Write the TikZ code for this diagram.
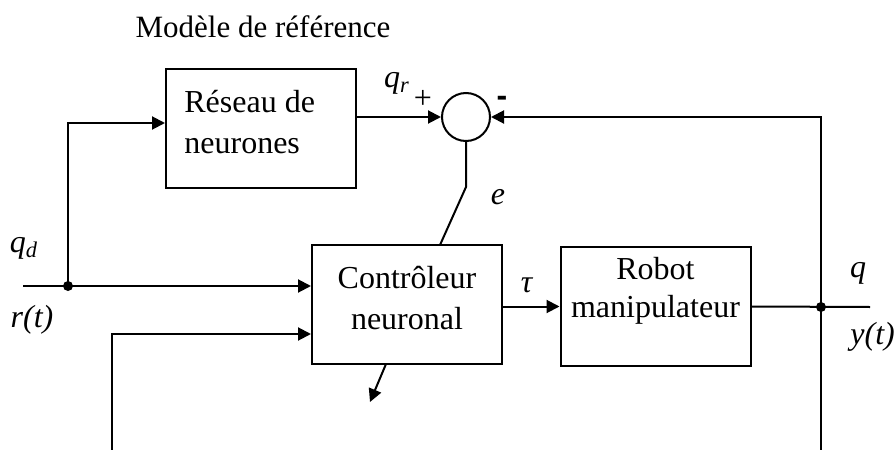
\documentclass[tikz,border=0pt]{standalone}
\usepackage{fontspec}
\setmainfont{Liberation Serif}
\usetikzlibrary{arrows.meta,calc}
\begin{document}
\begin{tikzpicture}[x=0.5pt,y=-0.5pt,
  every node/.style={font=\fontsize{16}{20.5}\selectfont},
  blk/.style={draw,line width=1pt,minimum width=95pt,minimum height=59.5pt,inner sep=0pt},
  sumnode/.style={draw,circle,line width=1pt,minimum size=24pt,inner sep=0pt},
  wire/.style={line width=1pt},
  sig/.style={wire,-{Triangle[length=6.5pt,width=6.5pt]}},
  lbl/.style={inner sep=0pt},
  junction/.style={circle,fill,minimum size=5pt,inner sep=0pt}]
\useasboundingbox (0,0) rectangle (896,450);

% title
\node[lbl,font=\fontsize{15.5}{19}\selectfont] (title) at (263,27) {Modèle de référence};

% blocks
\node[blk] (reseau) at (261,128.5) {};
\node[lbl,anchor=west,align=left] (reseautxt) at (184,122.5) {Réseau de\\neurones};
\node[sumnode] (sum) at (466,117) {};
\node[blk,align=center] (ctrl) at (407,304.5) {};
\node[lbl,align=center] (ctrltxt) at (407,298.5) {Contrôleur\\neuronal};
\node[blk] (robot) at (655.5,306.5) {};
\node[lbl,align=center,font=\fontsize{16}{19}\selectfont] (robottxt) at (655.5,291) {Robot\\manipulateur};

% junctions and free ends
\node[junction] (j1) at (68,286) {};
\node[junction] (j2) at (821,307) {};
\coordinate (qin) at (23,286);
\coordinate (fbin) at (112,450);
\coordinate (fbout) at (821,450);
\coordinate (yout) at (870,307);
\coordinate (ebend) at (466,187);
\coordinate (etop) at (440,245);
\coordinate (adapt) at (370,402);
\coordinate (adaptfrom) at (386,364);

% connectors
\draw[sig] (qin) -- (ctrl.west |- qin);
\draw[sig] (j1.center) |- ($(reseau.west)+(0,-5.5)$);
\draw[sig] (reseau.east |- sum) -- (sum.west);
\draw[wire] (sum.south) -- (ebend) -- (etop);
\draw[sig] (ctrl.east |- robot) -- (robot.west);
\draw[wire] (robot.east) -- (yout);
\draw[sig] (fbout) -- (j2.center) |- (sum.east);
\draw[sig] (fbin) |- (ctrl.west |- 0,334);
\draw[sig] (adaptfrom) -- (adapt);

% signal labels
\node[lbl] (qdl) at (24,248) {\textit{q}\textsubscript{\textit{d}}};
\node[lbl] (rtl) at (32,320) {\textit{r(t)}};
\node[lbl] (qrl) at (397,83) {\textit{q}\textsubscript{\textit{r}}};
\node[lbl] (plus) at (423,99) {+};
\node[lbl] (minus) at (502,101) {\fontspec{Liberation Sans}\bfseries -};
\node[lbl] (el) at (498,197) {\textit{e}};
\node[lbl] (taul) at (527,285) {\textit{τ}};
\node[lbl] (ql) at (858,273) {\textit{q}};
\node[lbl,anchor=west] (ytl) at (850,337) {\textit{y(t)}};
\end{tikzpicture}
\end{document}
